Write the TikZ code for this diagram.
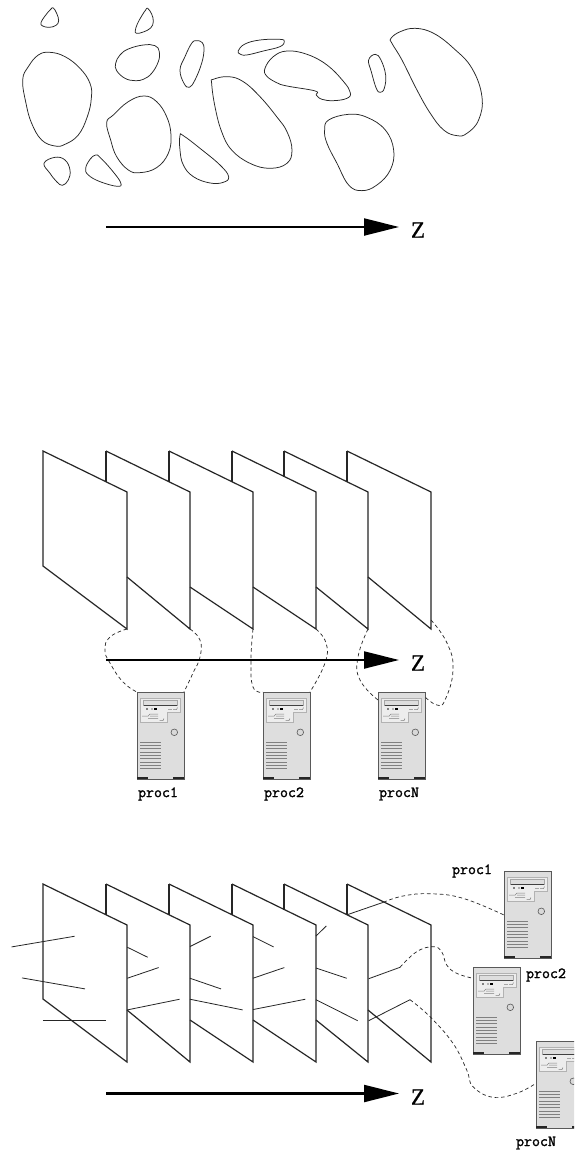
\documentclass[tikz,border=0pt]{standalone}
\usepackage{fontspec}
\setmainfont{Liberation Serif}
\newfontfamily\procfont[FakeBold=1.6]{Latin Modern Mono}
\newfontfamily\zfont[FakeBold=0.6]{Liberation Serif}
\usetikzlibrary{arrows.meta}
\definecolor{bodygray}{gray}{0.87}
\definecolor{panelgray}{gray}{0.93}
\definecolor{edgegray}{gray}{0.35}
\tikzset{
  blob/.style={draw=black!85,line width=0.75pt,line join=round},
  plate/.style={draw=black!85,line width=1.2pt,line join=miter},
  rod/.style={draw=black!85,line width=0.8pt},
  link/.style={draw=black!85,line width=0.7pt,dash pattern=on 3.6pt off 2.8pt},
  axis/.style={line width=2.2pt,-{Triangle[length=35pt,width=17pt]}},
  zlabel/.style={inner sep=0pt,font=\fontsize{23}{23}\selectfont\zfont},
  proclabel/.style={inner sep=0pt,font=\fontsize{15.5}{15.5}\selectfont\procfont},
  tower/.style={anchor=north west,minimum width=47pt,minimum height=87pt,inner sep=0pt,outer sep=0pt,
    draw=edgegray,line width=0.9pt,fill=bodygray},
}
\newcommand{\towerat}[2]{%
  \node[tower] (#1) at (#2) {};
  \begin{scope}[shift={(#1.north west)}]
    \draw[draw=gray!60!white,fill=panelgray,line width=.6pt] (3.3,6.7) -- (43.7,6.7) -- (43.7,20.7) -- (30,20.7) -- (30,30.7) -- (3.3,30.7) -- cycle;
    \draw[draw=gray!70!white,fill=bodygray,line width=.5pt] (6.7,8.3) rectangle (40,13.7);
    \draw[black!75,line width=.6pt] (6.7,13.7) -- (40,13.7);
    \fill[gray] (9,16) rectangle (11,17.6);
    \fill[gray!60!white] (13.5,16) rectangle (15.5,17.6);
    \fill[black] (17,16) rectangle (19.5,17.6);
    \fill[gray!70!white] (31,16.6) rectangle (35,17.4);
    \draw[gray,line width=.5pt] (36,17.6) -- (39.5,17.6) -- (40.5,15.5);
    \draw[gray,line width=.5pt] (5,24.2) -- (11,24.2) -- (13,22) -- (21,22) (11,26.5) -- (21,26.5) (13,24.2) -- (21,24.2);
    \draw[gray,line width=.5pt] (22.5,28.5) -- (26,28.5) -- (27,26.5);
    \draw[gray!70!black,fill=gray!30!white,line width=.6pt] (37.3,40.3) circle (3.3);
    \foreach \vy in {50,53.33,...,77}
      \draw[gray,line width=.9pt] (3.3,\vy) -- (23.7,\vy);
    \fill[black!85] (-.4,85) rectangle (10.7,87.4);
    \fill[black!85] (36.3,85) rectangle (47.4,87.4);
  \end{scope}
}
\newcommand{\platestack}{%
  \draw[plate] (106,451) -- (106,482);
  \draw[plate] (169,451) -- (169,482);
  \draw[plate] (232,451) -- (232,482);
  \draw[plate] (284,451) -- (284,477);
  \draw[plate] (347,451) -- (347,482);
  \draw[plate] (106,451) -- (190,492) -- (190,629) -- (127,577);
  \draw[plate] (169,451) -- (253,492) -- (253,629) -- (190,587);
  \draw[plate] (232,451) -- (316,492) -- (316,629) -- (253,587);
  \draw[plate] (284,451) -- (368,492) -- (368,629) -- (316,587);
  \draw[plate] (347,451) -- (431,492) -- (431,629) -- (368,577);
  \draw[plate] (43,451) -- (127,492) -- (127,629) -- (43,566) -- cycle;
}
\begin{document}
\begin{tikzpicture}[x=1pt,y=-1pt]
\clip (0,0) rectangle (574,1151);
\fill[white] (0,0) rectangle (574,1151);

% ---- blobs (coordinates at 3x)
\begin{scope}[x=0.3333pt,y=-0.3333pt]
\def\B#1{\draw[blob] plot[smooth cycle,tension=0.7] coordinates {#1};}
\B{(160,24)(170,40)(176,62)(168,76)(148,82)(128,78)(123,68)(135,48)(152,28)}
\B{(443,25)(455,42)(460,65)(452,84)(430,96)(410,100)(406,92)(412,72)(425,48)(437,30)}
\B{(150,157)(195,170)(240,205)(270,250)(274,295)(262,350)(235,405)(195,433)(165,438)(125,420)(95,370)(78,310)(68,240)(85,200)(115,165)}
\B{(385,147)(430,135)(465,137)(478,155)(475,185)(455,220)(430,238)(405,242)(375,235)(350,212)(347,190)(360,165)}
\B{(590,122)(607,128)(612,150)(605,190)(585,240)(568,262)(552,250)(540,210)(555,170)(575,130)}
\B{(715,152)(735,132)(780,120)(840,118)(853,125)(840,140)(790,153)(740,165)(720,162)}
\B{(640,238)(685,230)(730,245)(780,290)(830,350)(861,395)(876,450)(861,490)(810,505)(750,490)(695,450)(665,395)(645,320)(635,250)}
\B{(432,288)(470,305)(500,350)(513,405)(505,460)(470,503)(420,518)(385,510)(350,470)(332,420)(320,368)(340,345)(385,305)}
\B{(132,490)(165,472)(195,480)(210,510)(205,540)(187,556)(170,545)(150,520)}
\B{(287,465)(300,472)(335,510)(362,548)(352,559)(300,545)(265,525)(257,505)(270,478)}
\B{(540,407)(550,407)(600,445)(660,495)(686,530)(670,547)(630,549)(580,530)(550,495)(540,450)}
\B{(861,153)(820,170)(795,205)(800,228)(830,248)(861,258)(946,273)(949,285)(966,298)(1001,302)(1041,295)(1051,278)(1031,245)(981,195)(921,163)}
\B{(1106,180)(1126,163)(1143,180)(1157,225)(1153,265)(1141,277)(1129,265)(1114,215)}
\B{(1173,115)(1201,95)(1246,85)(1301,100)(1361,145)(1416,205)(1446,290)(1436,360)(1401,400)(1371,407)(1331,390)(1291,340)(1251,270)(1206,180)(1176,130)}
\B{(974,390)(986,360)(1046,343)(1101,352)(1156,390)(1181,450)(1171,510)(1131,555)(1086,572)(1046,555)(1011,490)(981,430)}
\end{scope}

% ---- top axis
\coordinate (a0) at (106,227);
\coordinate (a1) at (399,227);
\draw[axis] (a0) -- (a1);
\node[zlabel] (z1) at (418,230) {Z};

% ---- middle group
\platestack
\towerat{m1}{137,692}
\towerat{m2}{263,692}
\towerat{m3}{378,692}
\node[proclabel] (ml1) at (158,794) {proc1};
\node[proclabel] (ml2) at (284,794) {proc2};
\node[proclabel] (ml3) at (399,794) {procN};
\coordinate (c1) at (127,629);
\coordinate (c2) at (190,629);
\coordinate (c3) at (253,629);
\coordinate (c4) at (316,629);
\coordinate (c5) at (368,629);
\coordinate (c6) at (431,620);
\draw[link] plot[smooth,tension=.8] coordinates {(c1) (110,637) (105,650) (110,663) (123,682) (m1.north west)};
\draw[link] plot[smooth,tension=.8] coordinates {(c2) (200,640) (200,657) (193,673) (m1.north east)};
\draw[link] plot[smooth,tension=.8] coordinates {(c3) (251,660) (253,687) (m2.north west)};
\draw[link] plot[smooth,tension=.8] coordinates {(c4) (326,643) (325,663) (m2.north east)};
\draw[link] plot[smooth,tension=.8] coordinates {(c5) (358,657) (360,680) (m3.west|-0,700)};
\draw[link] plot[smooth,tension=.8] coordinates {(c6) (447,643) (453,670) (445,700) (437,705) (m3.east|-0,697)};
\coordinate (a2) at (106,660);
\coordinate (a3) at (399,660);
\draw[axis] (a2) -- (a3);
\node[zlabel] (z2) at (418,663) {Z};

% ---- bottom group
\begin{scope}[shift={(0,433)}]
\platestack
\end{scope}
\begin{scope}[x=0.3333pt,y=-0.3333pt,shift={(0,2580)}]
\draw[rod] (35,261) -- (224,229);
\draw[rod] (66,354) -- (255,387);
\draw[rod] (129,481) -- (318,481);
\draw[rod] (382,262) -- (443,292);
\draw[rod] (382,355) -- (476,323);
\draw[rod] (382,450) -- (539,418);
\draw[rod] (570,260) -- (632,229);
\draw[rod] (570,355) -- (663,387);
\draw[rod] (570,418) -- (728,450);
\draw[rod] (759,230) -- (821,261);
\draw[rod] (759,355) -- (853,323);
\draw[rod] (759,449) -- (916,418);
\end{scope}
\towerat{b1}{504,871}
\towerat{b2}{473,967}
\towerat{b3}{536,1041}
\node[proclabel] (bl1) at (472,871) {proc1};
\node[proclabel] (bl2) at (546,975) {proc2};
\node[proclabel] (bl3) at (536,1143) {procN};
\draw[rod] (316,936) -- (326.3,926);
\draw[rod] (316,968) -- (346.7,978.3);
\draw[rod] (316,999.7) -- (357.7,1020.7);
\coordinate (d1) at (347.3,914.7);
\coordinate (d3) at (368.7,1020.7);
\coordinate (e1) at (383.3,902.3);
\coordinate (e2) at (400,967.3);
\coordinate (e3) at (410,999.7);
\draw[rod] (d1) -- (e1);
\draw[rod] (368.7,978.7) -- (e2);
\draw[rod] (d3) -- (e3);
\draw[link] plot[smooth,tension=.7] coordinates {(e1) (403,896) (430,893.7) (463,898.3) (b1.west|-0,915)};
\draw[link] plot[smooth,tension=.7] coordinates {(e2) (416.7,951.7) (433,946.7) (441.7,951.7) (446.7,965) (456.7,973.3) (b2.west|-0,978.3)};
\draw[link] plot[smooth,tension=.7] coordinates {(e3) (430,1016.7) (453,1043.3) (466.7,1070) (473,1086.7) (493,1097.3) (516.7,1093.3) (b3.west|-0,1083.3)};
\coordinate (a4) at (106,1093.5);
\coordinate (a5) at (399,1093.5);
\draw[axis] (a4) -- (a5);
\node[zlabel] (z3) at (418,1097) {Z};
\end{tikzpicture}
\end{document}
